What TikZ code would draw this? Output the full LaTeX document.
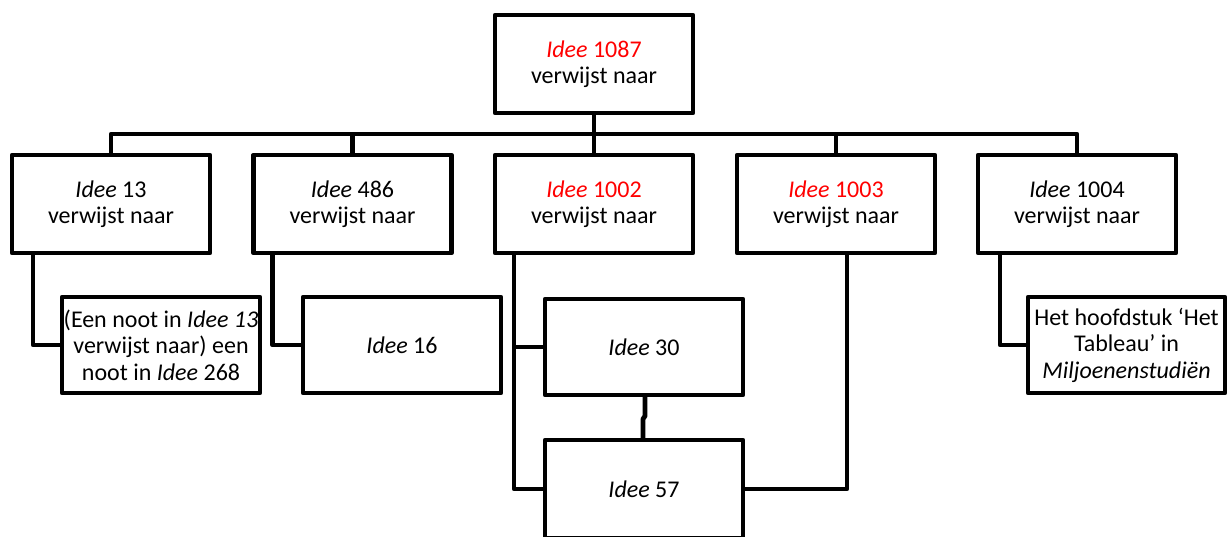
\documentclass[tikz,border=0pt]{standalone}
\usepackage{fontspec}
\setmainfont{Carlito}
\usetikzlibrary{calc}
\definecolor{ideered}{RGB}{255,0,0}
\tikzset{
  box/.style={draw=black, line width=4.8pt, fill=white, inner sep=0pt, outer sep=0pt,
    minimum width=198pt, minimum height=98pt, align=center,
    font=\fontsize{24}{26.5}\selectfont, line join=round},
  link/.style={draw=black, line width=4.8pt, line join=round}
}
\begin{document}
\begin{tikzpicture}[x=1pt,y=-1pt]
\useasboundingbox (0,0) rectangle (1229,537);
\fill[white] (0,0) rectangle (1229,537);
\begin{scope}
\clip (0,0) rectangle (1229,537);
% top
\node[box] (top) at (594,64) {\textcolor{ideered}{\textit{Idee} 1087}\\verwijst naar};
% row
\node[box] (r1) at (111,204) {\textit{Idee} 13\\verwijst naar};
\node[box] (r2) at (352.5,204) {\textit{Idee} 486\\verwijst naar};
\node[box] (r3) at (594,204) {\textcolor{ideered}{\textit{Idee} 1002}\\verwijst naar};
\node[box] (r4) at (836,204) {\textcolor{ideered}{\textit{Idee} 1003}\\verwijst naar};
\node[box] (r5) at (1077,204) {\textit{Idee} 1004\\verwijst naar};
% children
\node[box, minimum height=96pt] (c1) at (161,345) {(Een noot in \textit{Idee 13}\\verwijst naar) een\\noot in \textit{Idee} 268};
\node[box, minimum height=96pt] (c2) at (402,345) {\textit{Idee} 16};
\node[box, minimum height=96pt] (c3) at (644,347) {\textit{Idee} 30};
\node[box, minimum height=98pt] (c4) at (644,489) {\textit{Idee} 57};
\node[box, minimum height=96pt, minimum width=197pt] (c5) at (1126.5,345) {Het hoofdstuk `Het\\Tableau' in\\\textit{Miljoenenstudiën}};
% bus
\coordinate (bus) at (594,134);
\draw[link] (top.south) -- (r3.north);
\draw[link] (r1.north) -- (r1.north |- bus) -- (r5.north |- bus) -- (r5.north);
\draw[link] (r2.north) -- (r2.north |- bus);
\draw[link] (r4.north) -- (r4.north |- bus);
% child links
\draw[link] ([xshift=21pt]r1.south west) |- (c1.west);
\draw[link] ([xshift=19pt]r2.south west) |- (c2.west);
\draw[link] ([xshift=19pt]r3.south west) |- (c4.west);
\draw[link] ([xshift=19pt]r3.south west |- c3.west) -- (c3.west);
\draw[link] ([xshift=11pt]r4.south) |- (c4.east);
\draw[link] ([xshift=22pt]r5.south west) |- (c5.west);
\draw[link] ([xshift=1pt]c3.south) -- ++(0,21) -- ++(-2,3) -- ([xshift=-1pt]c4.north);
\end{scope}
\end{tikzpicture}
\end{document}
